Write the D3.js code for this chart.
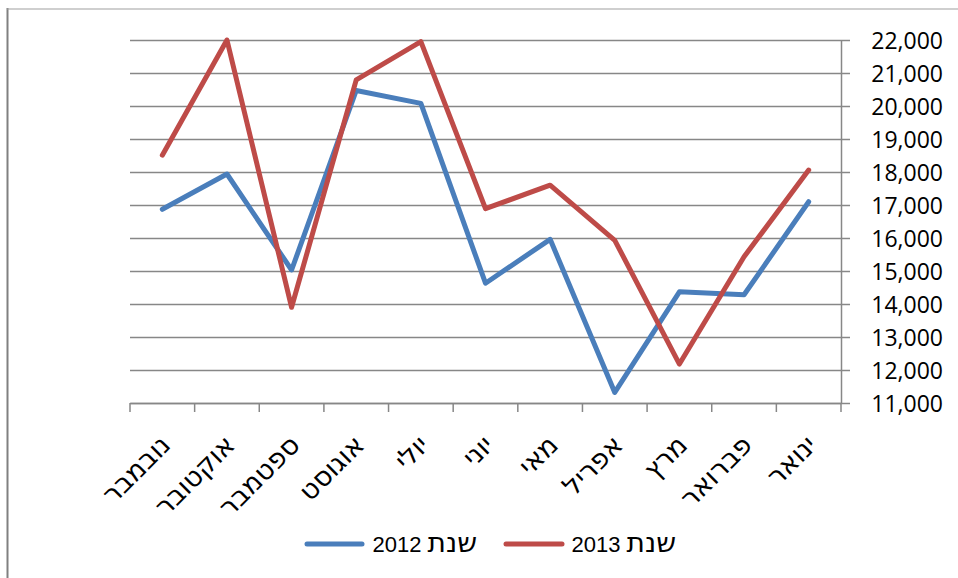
<!DOCTYPE html>
<html><head><meta charset="utf-8">
<script src="https://cdn.jsdelivr.net/npm/d3@7"></script>
<style>
html,body{margin:0;padding:0;background:#fff;}
svg{display:block;}
</style></head>
<body>
<svg id="chart" width="958" height="578"></svg>
<script>
// Months in chronological order (displayed right-to-left)
const months = ["ינואר","פברואר","מרץ","אפריל","מאי","יוני","יולי","אוגוסט","ספטמבר","אוקטובר","נובמבר"];
const values2012 = [17100, 14280, 14370, 11320, 15960, 14630, 20080, 20470, 15030, 17940, 16870];
const values2013 = [18060, 15430, 12180, 15930, 17600, 16890, 21950, 20790, 13900, 22000, 18510];
const yTicks = [11000,12000,13000,14000,15000,16000,17000,18000,19000,20000,21000,22000];
const seriesWord = "שנת";
const seriesYears = ["2012","2013"];
const seriesColors = ["#4A7EBB","#BE4B48"];

(function(){
const svg = d3.select("#chart");
const pLeft = 130, pRight = 841, pTop = 40, pBottom = 403;
const axisColor = "#878787";
const hebFont = "'DejaVu Sans', 'Liberation Sans', sans-serif";

// frame
svg.append("line").attr("x1",7.5).attr("x2",7.5).attr("y1",8).attr("y2",578).attr("stroke","#808080").attr("stroke-width",2);
svg.append("line").attr("x1",7).attr("x2",958).attr("y1",9).attr("y2",9).attr("stroke","#a0a0a0").attr("stroke-width",1.2);

const x = d3.scaleBand().domain(months).range([pRight, pLeft]).paddingInner(0).paddingOuter(0);
const y = d3.scaleLinear().domain([11000, 22000]).range([pBottom, pTop]);

// gridlines
const grid = svg.append("g").attr("transform",`translate(${pRight},0)`)
  .call(d3.axisLeft(y).tickValues(yTicks).tickSize(pRight-pLeft).tickFormat(""));
grid.select(".domain").remove();
grid.selectAll(".tick line").attr("stroke",axisColor).attr("stroke-width",1.5);

// y axis on the right
const ya = svg.append("g").attr("transform",`translate(${pRight},0)`)
  .call(d3.axisRight(y).tickValues(yTicks).tickSize(9).tickSizeOuter(0).tickFormat(d3.format(",")));
ya.select(".domain").attr("stroke",axisColor).attr("stroke-width",1.5);
ya.selectAll(".tick line").attr("stroke",axisColor).attr("stroke-width",1.5);
ya.selectAll(".tick text").attr("x",102).attr("text-anchor","end").attr("dy","0.35em")
  .attr("font-family","'Open Sans', Lato, sans-serif").attr("font-size",23).attr("fill","#000");

// x axis
const xa = svg.append("g").attr("transform",`translate(0,${pBottom})`)
  .call(d3.axisBottom(x).tickSize(0).tickSizeOuter(0));
xa.select(".domain").attr("stroke",axisColor).attr("stroke-width",1.5);
xa.selectAll(".tick text")
  .attr("font-family",hebFont).attr("font-size",27).attr("fill","#000")
  .attr("text-anchor","end").attr("dy","0.35em").attr("y",0)
  .attr("transform","translate(3,37) rotate(-45)");
// boundary tick marks
const bounds = months.map(m => x(m)).concat([x(months[0]) + x.bandwidth()]);
svg.append("g").selectAll("line").data(bounds).join("line")
  .attr("x1",d=>d).attr("x2",d=>d).attr("y1",pBottom).attr("y2",pBottom+9)
  .attr("stroke",axisColor).attr("stroke-width",1.5);

// lines
const line = d3.line().x((d,i)=>x(months[i]) + x.bandwidth()/2).y(d=>y(d));
[values2012, values2013].forEach((vals,k)=>{
  svg.append("path").datum(vals).attr("d",line).attr("fill","none")
    .attr("stroke",seriesColors[k]).attr("stroke-width",5)
    .attr("stroke-linejoin","round").attr("stroke-linecap","round");
});

// legend
const legendItems = [
  {x1:307, x2:362, tx:477},
  {x1:506, x2:562, tx:676}
];
legendItems.forEach((it,k)=>{
  svg.append("line").attr("x1",it.x1).attr("x2",it.x2).attr("y1",544).attr("y2",544)
    .attr("stroke",seriesColors[k]).attr("stroke-width",5).attr("stroke-linecap","round");
  const t = svg.append("text").attr("x",it.tx).attr("y",544).attr("dy","0.35em")
    .attr("direction","rtl").attr("text-anchor","start")
    .attr("font-family","'Liberation Sans', sans-serif").attr("font-size",22).attr("fill","#000");
  t.append("tspan").attr("font-family",hebFont).attr("font-size",28).text(seriesWord);
  t.append("tspan").text(" " + seriesYears[k]);
});
})();
</script>
</body></html>
